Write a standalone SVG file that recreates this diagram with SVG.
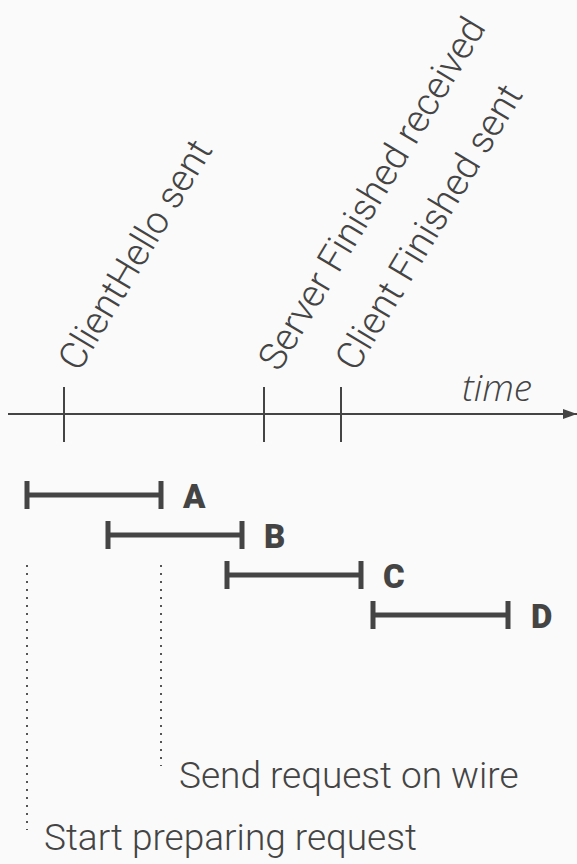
<svg xmlns="http://www.w3.org/2000/svg" width="577" height="864" viewBox="0 0 577 864">
<style>
.ax{stroke:#444;stroke-width:2;fill:none}
.bar{stroke:#444;stroke-width:5;fill:none}
.dot{stroke:#555;stroke-width:2;stroke-dasharray:2 6;fill:none}
.lt{font-family:Roboto,"Liberation Sans",sans-serif;font-weight:300;font-size:37px;fill:#444}
.rt{font-family:Roboto,"Liberation Sans",sans-serif;font-weight:300;font-size:38px;fill:#444}
.bd{font-family:Roboto,"Liberation Sans",sans-serif;font-weight:900;font-size:33px;fill:#444}
.it{font-family:"Open Sans","Liberation Sans",sans-serif;font-weight:300;font-style:italic;font-size:37px;fill:#444}
</style>
<defs>
<marker id="arr" markerWidth="14" markerHeight="10" refX="14" refY="5" orient="auto" markerUnits="userSpaceOnUse">
<path d="M0,0 L14,5 L0,10 Z" fill="#444"/>
</marker>
</defs>
<rect width="577" height="864" fill="#fafafa"/>
<g id="axis">
<line class="ax" x1="8" y1="414" x2="577" y2="414" marker-end="url(#arr)"/>
<text class="it" x="462" y="401">time</text>
</g>
<g id="tick-clienthello">
<line class="ax" x1="64" y1="387" x2="64" y2="442"/>
<text class="rt" transform="translate(79,373) rotate(-59)">ClientHello sent</text>
</g>
<g id="tick-serverfinished">
<line class="ax" x1="264" y1="387" x2="264" y2="442"/>
<text class="rt" transform="translate(279,373) rotate(-59)">Server Finished received</text>
</g>
<g id="tick-clientfinished">
<line class="ax" x1="341" y1="387" x2="341" y2="442"/>
<text class="rt" transform="translate(356,373) rotate(-59)">Client Finished sent</text>
</g>
<g id="bar-A">
<path class="bar" d="M27,481 V509 M27,495 H161 M161,481 V509"/>
<text class="bd" x="183" y="508">A</text>
</g>
<g id="bar-B">
<path class="bar" d="M108,521 V549 M108,535 H242 M242,521 V549"/>
<text class="bd" x="264" y="548">B</text>
</g>
<g id="bar-C">
<path class="bar" d="M227,561 V589 M227,575 H361 M361,561 V589"/>
<text class="bd" x="383" y="588">C</text>
</g>
<g id="bar-D">
<path class="bar" d="M373,601 V629 M373,615 H508 M508,601 V629"/>
<text class="bd" x="531" y="628">D</text>
</g>
<g id="connectors">
<line class="dot" x1="27" y1="565" x2="27" y2="830"/>
<line class="dot" x1="161" y1="565" x2="161" y2="766"/>
</g>
<g id="label-send">
<text class="lt" x="179" y="788">Send request on wire</text>
</g>
<g id="label-start">
<text class="lt" x="44" y="850">Start preparing request</text>
</g>
</svg>
